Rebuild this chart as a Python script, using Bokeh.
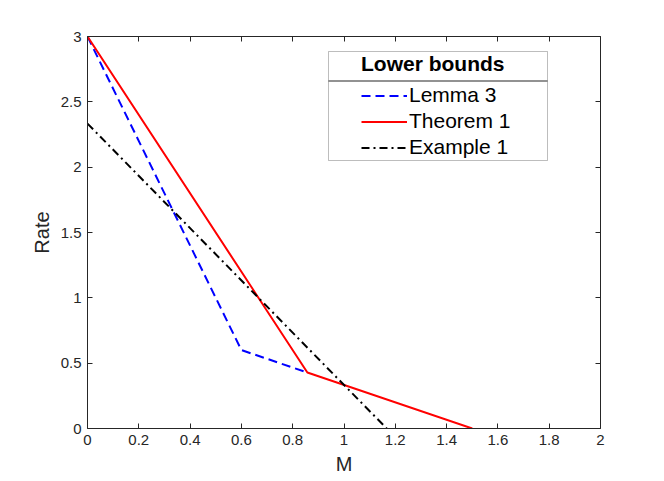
from bokeh.plotting import figure
from bokeh.models import Range1d, LinearAxis, FixedTicker, Legend, LegendItem, BoxAnnotation
from bokeh.embed import file_html
from bokeh.resources import INLINE

# data
lemma3_x = [0, 0.6, 6/7]
lemma3_y = [3, 0.6, 3/7]
thm1_x = [0, 6/7, 1.5]
thm1_y = [3, 3/7, 0]
ex1_x = [0, 7/6]
ex1_y = [7/3, 0]

x_ticks = [0, 0.2, 0.4, 0.6, 0.8, 1, 1.2, 1.4, 1.6, 1.8, 2]
x_tick_labels = ["0", "0.2", "0.4", "0.6", "0.8", "1", "1.2", "1.4", "1.6", "1.8", "2"]
y_ticks = [0, 0.5, 1, 1.5, 2, 2.5, 3]
y_tick_labels = ["0", "0.5", "1", "1.5", "2", "2.5", "3"]

FONT = "Liberation Sans"
AX = "#262626"

p = figure(width=656, height=477, x_range=Range1d(0, 2), y_range=Range1d(0, 3),
           output_backend="svg", toolbar_location=None,
           min_border_left=87, min_border_top=36, min_border_right=56, min_border_bottom=49)
p.outline_line_color = None
p.xgrid.visible = False
p.ygrid.visible = False
p.background_fill_color = "white"
p.border_fill_color = "white"

def style_axis(ax, ticks, labels, show):
    ax.ticker = FixedTicker(ticks=ticks)
    ax.major_label_overrides = {t: l for t, l in zip(ticks, labels)}
    ax.major_tick_in = 5
    ax.major_tick_out = 0
    ax.minor_tick_line_color = None
    ax.axis_line_color = AX
    ax.major_tick_line_color = AX
    ax.major_label_text_font = FONT
    ax.major_label_text_font_size = "15px"
    ax.major_label_text_color = AX
    ax.axis_label_text_font = FONT
    ax.axis_label_text_font_size = "20px"
    ax.axis_label_text_font_style = "normal"
    ax.axis_label_text_color = AX
    if not show:
        ax.major_label_text_alpha = 0
        ax.major_label_text_font_size = "1px"
        ax.major_label_standoff = 0

style_axis(p.xaxis[0], x_ticks, x_tick_labels, True)
style_axis(p.yaxis[0], y_ticks, y_tick_labels, True)
p.xaxis[0].axis_label = "M"
p.yaxis[0].axis_label = "Rate"
p.xaxis[0].major_label_standoff = 6
p.xaxis[0].axis_label_standoff = 5
p.yaxis[0].major_label_standoff = 6
p.yaxis[0].axis_label_standoff = 5

top_ax = LinearAxis()
right_ax = LinearAxis()
style_axis(top_ax, x_ticks, x_tick_labels, False)
style_axis(right_ax, y_ticks, y_tick_labels, False)
p.add_layout(top_ax, "above")
p.add_layout(right_ax, "right")

r1 = p.line(lemma3_x, lemma3_y, line_color="#0000ff", line_width=2, line_dash="9 5")
r2 = p.line(thm1_x, thm1_y, line_color="#ff0000", line_width=2)
r3 = p.line(ex1_x, ex1_y, line_color="black", line_width=2, line_dash="8 4 2 4")

box = BoxAnnotation(left=328, right=547, top=51, bottom=160,
                    left_units="canvas", right_units="canvas", top_units="canvas", bottom_units="canvas",
                    fill_color="white", fill_alpha=1, line_color=AX, line_width=1)
sep = BoxAnnotation(left=328, right=547, top=80, bottom=81,
                    left_units="canvas", right_units="canvas", top_units="canvas", bottom_units="canvas",
                    fill_color=AX, fill_alpha=1, line_color=None)
p.add_layout(box)
p.add_layout(sep)

legend = Legend(items=[LegendItem(label="Lemma 3", renderers=[r1]),
                       LegendItem(label="Theorem 1", renderers=[r2]),
                       LegendItem(label="Example 1", renderers=[r3])],
                location=(274, 269), title="Lower bounds",
                padding=0, margin=0, spacing=2,
                glyph_width=46, glyph_height=21, label_height=21, label_standoff=2,
                label_text_font=FONT, label_text_font_size="21px", label_text_color="black",
                title_text_font=FONT, title_text_font_size="21px", title_text_font_style="bold",
                title_text_color="black", title_standoff=7,
                background_fill_alpha=0, border_line_color=None)
p.add_layout(legend, "center")

open("out.html", "w").write(file_html(p, INLINE))
